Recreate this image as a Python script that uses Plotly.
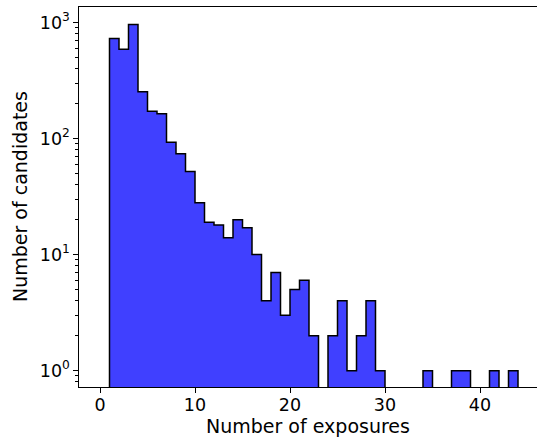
import plotly.graph_objects as go

# Histogram data: bins of width 1 starting at 1 (edges 1..44)
bin_edges = list(range(1, 45))
counts = [728, 589, 961, 253, 172, 164, 93, 74, 52, 28,
          19, 18, 14, 20, 17, 10, 4, 7, 3, 5,
          6, 2, 0, 2, 4, 1, 2, 4, 1, 0,
          0, 0, 0, 1, 0, 0, 1, 1, 0, 0,
          1, 0, 1]

x_tick_vals = [0, 10, 20, 30, 40]
y_tick_vals = [1, 10, 100, 1000]
y_tick_text = ["10<sup>0</sup>", "10<sup>1</sup>", "10<sup>2</sup>", "10<sup>3</sup>"]
y_minor_vals = [m * d for d in (0.1, 1, 10, 100, 1000) for m in range(2, 10)]

x_title = "Number of exposures"
y_title = "Number of candidates"

# Build the stepfilled outline from the data
floor = 0.01
xs, ys = [bin_edges[0]], [floor]
for i, c in enumerate(counts):
    v = c if c > 0 else floor
    xs += [bin_edges[i], bin_edges[i + 1]]
    ys += [v, v]
xs.append(bin_edges[-1])
ys.append(floor)
xs.append(bin_edges[0])
ys.append(floor)

font = dict(family="DejaVu Sans", size=17.5, color="black")
title_font = dict(family="DejaVu Sans", size=19, color="black")

fig = go.Figure()
fig.add_trace(go.Scatter(
    x=xs, y=ys, mode="lines", fill="toself",
    fillcolor="rgba(0,0,255,0.75)",
    line=dict(color="black", width=1.5),
    hoverinfo="skip", showlegend=False,
))

fig.update_layout(
    width=537, height=440,
    margin=dict(l=79, r=0, t=7, b=53, autoexpand=False),
    paper_bgcolor="white", plot_bgcolor="white",
    font=font,
    showlegend=False,
)
fig.update_xaxes(
    range=[-2.21, 46.0], automargin=False,
    tickmode="array", tickvals=x_tick_vals,
    ticks="outside", ticklen=4.5, tickwidth=1, tickcolor="black",
    ticklabelstandoff=-3,
    showline=True, linecolor="black", linewidth=1.2, mirror=True,
    showgrid=False, zeroline=False,
    tickfont=font,
)
fig.update_yaxes(
    type="log", automargin=False,
    range=[-0.141, 3.134],
    tickmode="array", tickvals=y_tick_vals, ticktext=y_tick_text,
    ticks="outside", ticklen=4.5, tickwidth=1, tickcolor="black",
    minor=dict(tickmode="array", tickvals=y_minor_vals, ticks="outside",
               ticklen=2.5, tickwidth=0.8, tickcolor="black", showgrid=False),
    showline=True, linecolor="black", linewidth=1.2, mirror=False,
    showgrid=False, zeroline=False,
    tickfont=font,
)
fig.add_annotation(text=x_title, xref="paper", yref="paper", x=0.5, y=0.0,
                   yshift=-39, xanchor="center", yanchor="middle",
                   showarrow=False, font=title_font)
fig.add_annotation(text=y_title, xref="paper", yref="paper", x=0.0, y=0.5,
                   xshift=-59, xanchor="center", yanchor="middle", textangle=-90,
                   showarrow=False, font=title_font)

fig.write_html("out.html",
               config={"displayModeBar": False},
               post_script="document.body.style.margin='0';document.body.style.overflow='hidden';")
